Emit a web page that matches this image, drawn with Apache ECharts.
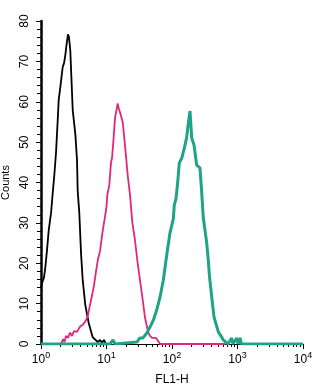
<!DOCTYPE html>
<html><head><meta charset="utf-8">
<script src="https://cdn.jsdelivr.net/npm/echarts@6/dist/echarts.min.js"></script>
<style>html,body{margin:0;padding:0;background:#fff}#c{width:320px;height:387px}</style>
</head><body><div id="c"></div>
<script>
// x values are log10(FL1-H); y values are counts
const blackX = [0.000,0.023,0.046,0.066,0.092,0.118,0.153,0.179,0.203,0.229,0.255,0.270,0.295,0.331,0.351,0.371,0.389,0.412,0.427,0.447,0.484,0.524,0.550,0.560,0.585,0.611,0.637,0.676,0.728,0.789,0.866,0.901,0.931,0.962,0.992,1.053];
const blackY = [14,15.5,16.5,19,23.3,28.2,32.4,37.4,41.8,47.3,55.4,60.4,63.6,68.6,69.5,71.5,74,76.7,76,72.8,58,52,45.5,38,32.4,22.5,15.8,9.7,5.2,1.7,0.5,1,0.3,1,0,0];
const pinkX = [0.305,0.336,0.359,0.382,0.412,0.443,0.473,0.504,0.550,0.595,0.641,0.672,0.710,0.740,0.779,0.809,0.840,0.870,0.901,0.942,0.977,1.000,1.012,1.043,1.069,1.084,1.104,1.130,1.153,1.171,1.183,1.206,1.247,1.282,1.324,1.359,1.394,1.435,1.470,1.511,1.553,1.588,1.638,1.664,1.695,1.756,1.786,1.817,2.809];
const pinkY = [0,1.2,0.5,2,1.5,2.8,2,3.2,3,4.3,4.8,5.5,6.6,9,12,14.5,18,21,23,28,31.5,34,36.9,39.4,45,46,50,56,58,59.6,58.5,57.4,55,49.3,41.8,36.9,30.2,25.7,20.8,15.8,10.9,6.5,2.8,2,1.5,1.5,0.8,0,0];
const tealX = [0,1.053,1.099,1.130,1.466,1.511,1.557,1.614,1.664,1.715,1.766,1.817,1.867,1.919,1.969,2.020,2.035,2.061,2.087,2.111,2.148,2.188,2.224,2.252,2.275,2.290,2.301,2.336,2.377,2.427,2.453,2.478,2.530,2.554,2.573,2.595,2.618,2.641,2.672,2.707,2.759,2.783,2.855,2.911,2.931,2.988,3.008,3.038,3.061,4.000];
const tealY = [0,0,1,0,0.5,1.5,1.5,2.7,4.2,5.9,8.4,11.6,15.8,22,27.5,31,34.4,36,40,44.8,46,48.5,51.2,55,57.7,54,51,49.3,44.3,43.6,37.7,31.2,25,20.8,16.6,13.4,10,6.7,5,3,1.7,1,0,1.5,0,1.5,0,1.5,0,0];
const xMajorTicks = [0,1,2,3,4];
const yTicks = [0,10,20,30,40,50,60,70,80];
const xTitle = 'FL1-H';
const yTitle = 'Counts';

const zip = (xs, ys) => xs.map((x, i) => [x, ys[i]]);
const minorX = [];
for (let d = 0; d < 4; d++) for (let k = 2; k <= 9; k++) minorX.push(d + Math.log10(k));

const font = 'Liberation Sans, Arial, sans-serif';
const chart = echarts.init(document.getElementById('c'), null, {renderer: 'canvas'});
chart.setOption({
  animation: false,
  backgroundColor: '#fff',
  grid: {left: 41, right: 17, top: 21, bottom: 43, containLabel: false, outerBoundsMode: 'none'},
  xAxis: [{
    type: 'value', min: 0, max: 4, interval: 1,
    name: xTitle, nameLocation: 'middle', nameGap: 30,
    nameTextStyle: {fontFamily: font, fontSize: 12, color: '#000'},
    axisLine: {lineStyle: {color: '#000', width: 1}},
    axisTick: {length: 5, lineStyle: {color: '#000'}},
    splitLine: {show: false},
    axisLabel: {
      margin: 7, color: '#000', fontFamily: font,
      formatter: v => '{b|10}{s|' + v + '}',
      rich: {b: {fontSize: 12, fontFamily: font, color: '#000'},
             s: {fontSize: 9, fontFamily: font, color: '#000', padding: [0, 0, 8, 0]}}
    }
  }, {
    type: 'value', min: 0, max: 4, position: 'bottom',
    axisLine: {show: false},
    axisTick: {show: true, length: 3, customValues: minorX, lineStyle: {color: '#000'}},
    axisLabel: {show: false},
    splitLine: {show: false}
  }],
  yAxis: {
    type: 'value', min: 0, max: 80, interval: 10,
    name: yTitle, nameLocation: 'middle', nameGap: 29,
    nameTextStyle: {fontFamily: font, fontSize: 11, color: '#000'},
    axisLine: {show: true, lineStyle: {color: '#000', width: 2.5}},
    axisTick: {show: true, length: 5, lineStyle: {color: '#000', width: 1}},
    minorTick: {show: true, splitNumber: 5, length: 4, lineStyle: {color: '#000'}},
    splitLine: {show: false},
    axisLabel: {rotate: 90, margin: 10, fontSize: 12, fontFamily: font, color: '#000',
      customValues: yTicks}
  },
  series: [
    {type: 'line', data: zip(blackX, blackY), showSymbol: false, lineStyle: {color: '#000', width: 1.8}, z: 3},
    {type: 'line', data: zip(pinkX, pinkY), showSymbol: false, lineStyle: {color: '#e3267b', width: 1.8}, z: 4},
    {type: 'line', data: zip(tealX, tealY), showSymbol: false, lineStyle: {color: '#1fa386', width: 3}, z: 5}
  ]
});
</script></body></html>
